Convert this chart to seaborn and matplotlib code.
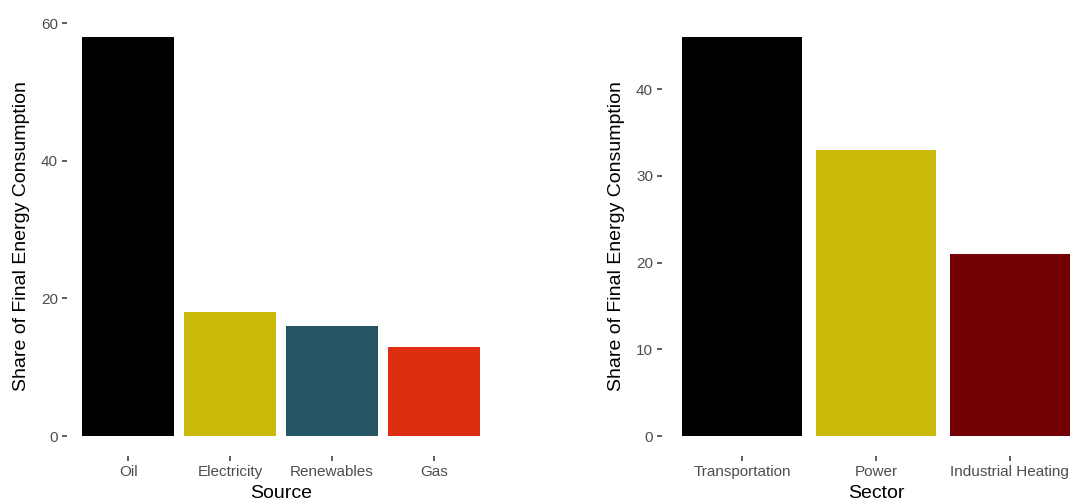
import matplotlib
matplotlib.use('Agg')
import matplotlib.pyplot as plt
import pandas as pd
import seaborn as sns

# 数据
sources = ['Oil', 'Electricity', 'Renewables', 'Gas']
source_share = [58, 18, 16, 13]
source_colors = ['#000000', '#CBB90A', '#265665', '#DD2E12']

sectors = ['Transportation', 'Power', 'Industrial Heating']
sector_share = [46, 33, 21]
sector_colors = ['#000000', '#CBB90A', '#730005']

sns.set_theme(style='white')
plt.rcParams['font.family'] = ['Liberation Sans', 'DejaVu Sans']

W, H = 1072, 503
fig = plt.figure(figsize=(W / 100, H / 100), dpi=100)

# 面板像素位置 (left, top, right, bottom)
def add_panel(l, t, r, b):
    return fig.add_axes([l / W, 1 - b / H, (r - l) / W, (b - t) / H])

ax1 = add_panel(67, 17, 495, 456)
ax2 = add_panel(662, 17, 1090, 456)


def draw(ax, cats, vals, colors, xlabel, yticks):
    df = pd.DataFrame({'cat': cats, 'val': vals})
    sns.barplot(data=df, x='cat', y='val', hue='cat', palette=colors,
                order=cats, hue_order=cats, width=0.9, saturation=1,
                legend=False, ax=ax, edgecolor='none', linewidth=0)
    n = len(cats)
    ymax = max(vals)
    ax.set_xlim(-0.6, n - 1 + 0.6)
    ax.set_ylim(-0.05 * ymax, ymax * 1.05)
    ax.set_yticks(yticks)
    for s in ax.spines.values():
        s.set_visible(False)
    ax.tick_params(axis='both', which='both', direction='out', length=3.5, width=1.1,
                   color='#333333', labelcolor='#4D4D4D', labelsize=11, pad=3,
                   left=True, bottom=True)
    ax.set_xlabel(xlabel, fontsize=14, color='black', labelpad=4)
    ax.set_ylabel('Share of Final Energy Consumption', fontsize=14, color='black', labelpad=8)


draw(ax1, sources, source_share, source_colors, 'Source', [0, 20, 40, 60])
draw(ax2, sectors, sector_share, sector_colors, 'Sector', [0, 10, 20, 30, 40])

fig.savefig('out.png', dpi=100)
